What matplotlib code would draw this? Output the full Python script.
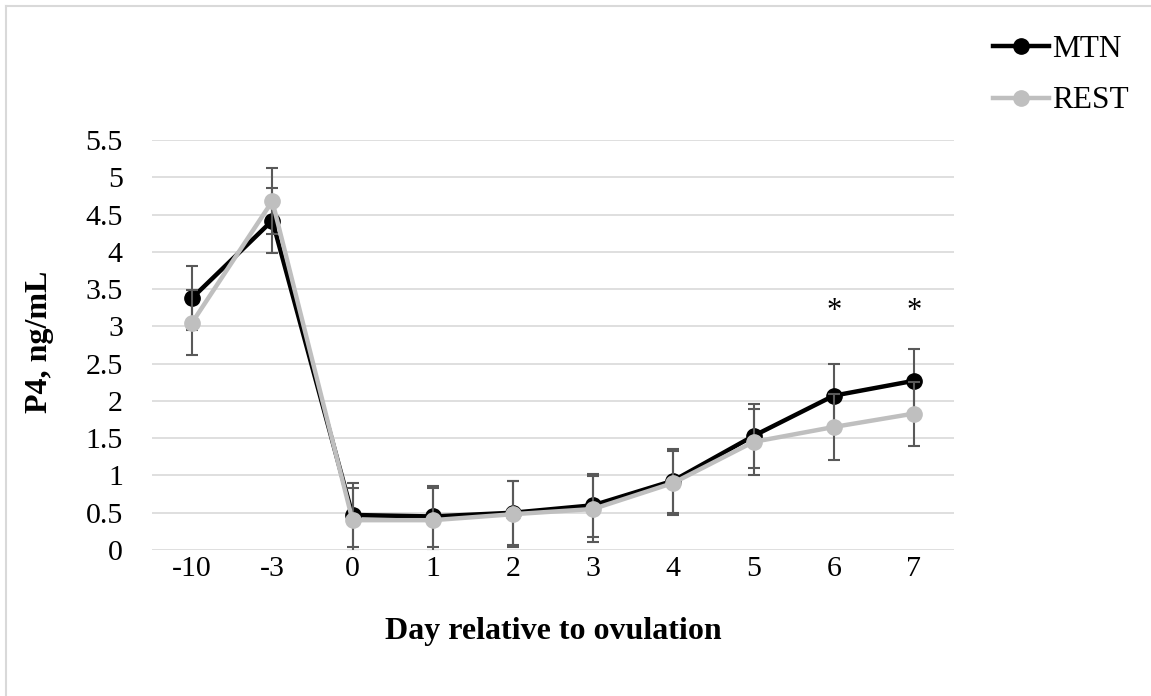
import matplotlib
matplotlib.use("Agg")
import matplotlib.pyplot as plt
from matplotlib.lines import Line2D

# data
days = ["-10", "-3", "0", "1", "2", "3", "4", "5", "6", "7"]
mtn = [3.38, 4.42, 0.47, 0.45, 0.50, 0.60, 0.93, 1.53, 2.07, 2.27]
rest = [3.05, 4.68, 0.40, 0.40, 0.48, 0.55, 0.90, 1.45, 1.65, 1.83]
mtn_err = [0.43, 0.43, 0.43, 0.41, 0.43, 0.42, 0.43, 0.43, 0.43, 0.43]
rest_err = [0.44, 0.44, 0.43, 0.43, 0.44, 0.44, 0.43, 0.44, 0.44, 0.43]
star_days = ["6", "7"]
star_y = 3.2
yticks = [0, 0.5, 1, 1.5, 2, 2.5, 3, 3.5, 4, 4.5, 5, 5.5]

plt.rcParams['font.family'] = ['Liberation Serif', 'DejaVu Serif']

W, H = 1151, 696
fig = plt.figure(figsize=(W / 100, H / 100), dpi=100)
ax = fig.add_axes([152 / W, 1 - 550 / H, 802 / W, 410 / H])

x = list(range(len(days)))
ERR_C = '#595959'
GRID_C = '#D9D9D9'
REST_C = '#BFBFBF'

ax.errorbar(x, mtn, yerr=mtn_err, fmt='none', ecolor=ERR_C, elinewidth=1.5,
            capsize=4, capthick=1.5, zorder=3)
ax.plot(x, mtn, color='black', lw=3.2, marker='o', ms=11, zorder=4)
ax.errorbar(x, rest, yerr=rest_err, fmt='none', ecolor=ERR_C, elinewidth=1.5,
            capsize=4, capthick=1.5, zorder=5)
ax.plot(x, rest, color=REST_C, lw=3.2, marker='o', ms=11, zorder=6)

for d in star_days:
    ax.text(days.index(d), star_y, "*", ha='center', va='center', fontsize=22)

ax.set_xlim(-0.5, len(days) - 0.5)
ax.set_ylim(0, 5.5)
ax.set_xticks(x)
ax.set_xticklabels(days)
ax.set_yticks(yticks)
ax.set_yticklabels([f"{v:g}" for v in yticks])
ax.tick_params(axis='both', length=0, labelsize=21.5)
ax.tick_params(axis='y', pad=21)
ax.tick_params(axis='x', pad=4)
ax.grid(axis='y', color=GRID_C, lw=1.2)
ax.set_axisbelow(True)
for s in ax.spines.values():
    s.set_visible(False)

fig.text(40 / W, 1 - 342 / H, "P4, ng/mL", rotation=90, ha='center', va='center',
         fontsize=23, fontweight='bold')
fig.text(553 / W, 1 - 631 / H, "Day relative to ovulation", ha='center', va='center',
         fontsize=23, fontweight='bold')

# legend
handles = [Line2D([], [], color='black', lw=3.2, marker='o', ms=11),
           Line2D([], [], color=REST_C, lw=3.2, marker='o', ms=11)]
fig.legend(handles, ["MTN", "REST"], loc='upper left',
           bbox_to_anchor=(993 / W, 1 - 35 / H), frameon=False, fontsize=22.5,
           handlelength=1.8, handletextpad=0.1, labelspacing=0.72,
           borderpad=0, borderaxespad=0)

# chart border (left and top edges visible)
fig.add_artist(Line2D([6 / W, 6 / W], [0, 1 - 6 / H], color=GRID_C, lw=1.5))
fig.add_artist(Line2D([6 / W, 1], [1 - 6 / H, 1 - 6 / H], color=GRID_C, lw=1.5))

fig.savefig("out.png", dpi=100)
